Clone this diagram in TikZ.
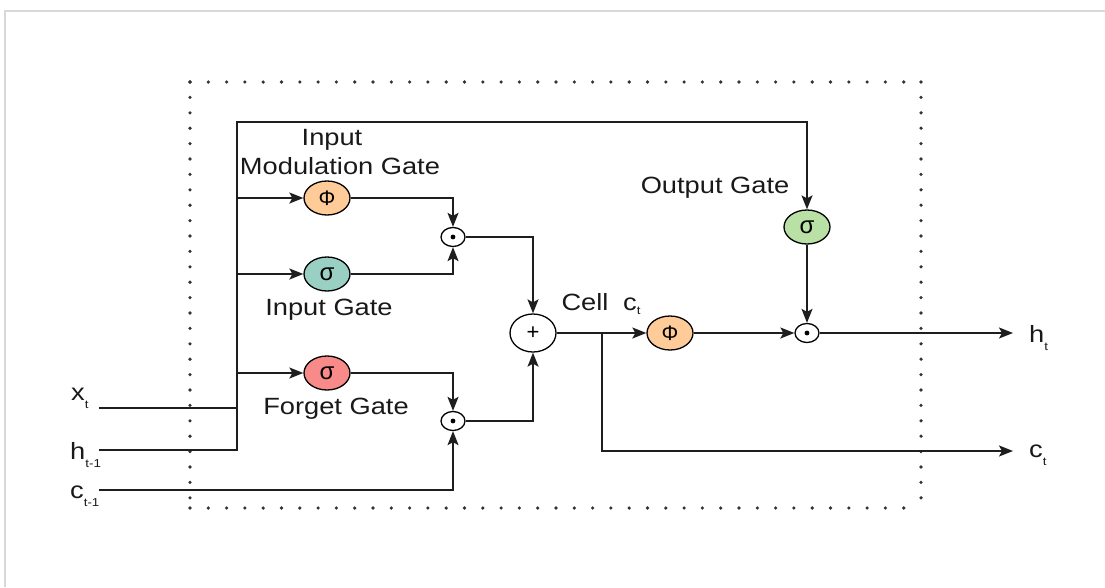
\documentclass[tikz,border=0pt]{standalone}
\usepackage{fontspec}
\setmainfont{Liberation Sans}[FakeStretch=1.16]
\newfontfamily\symfont{Liberation Sans}
\usetikzlibrary{arrows.meta,shapes.geometric}
\definecolor{phiorange}{HTML}{FFCC99}
\definecolor{sigteal}{HTML}{9ACFC4}
\definecolor{sigpink}{HTML}{F88A8A}
\definecolor{siggreen}{HTML}{B9E0A5}
\definecolor{wirecol}{HTML}{1E1E1E}
\definecolor{dotcol}{HTML}{333333}
\definecolor{framecol}{HTML}{D8D8D8}
\newcommand{\subl}[3][-8pt]{#2\raisebox{#1}{\fontsize{11.5}{11.5}\selectfont #3}}
\begin{document}
\begin{tikzpicture}[x=1pt,y=-1pt,
  gate/.style={ellipse, draw=black, line width=1.3pt, minimum width=46pt, minimum height=34pt, inner sep=0pt},
  opnode/.style={ellipse, draw=black, line width=1.3pt, minimum width=24pt, minimum height=19pt, inner sep=0pt},
  wire/.style={line width=1.5pt, draw=wirecol},
  arr/.style={wire, -{Stealth[length=14pt,width=11pt,inset=3pt]}},
  lbl/.style={font=\fontsize{23.5}{27}\selectfont, inner sep=0pt, text=black!90},
  phisym/.style={font=\symfont\fontsize{21}{21}\selectfont},
  sigsym/.style={font=\symfont\fontsize{24}{24}\selectfont},
  dotline/.style={draw=dotcol, line width=3.6pt, line cap=round}
]
\useasboundingbox (0,0) rectangle (1105,587);
% light frame
\draw[framecol, line width=2pt] (5,587) -- (5,11) -- (1105,11);
% dotted box
\draw[dotline, dash pattern=on 0pt off 18.3pt] (190,82) -- (921,82);
\draw[dotline, dash pattern=on 0pt off 18.3pt] (190,508) -- (921,508);
\draw[dotline, dash pattern=on 0pt off 15.4pt] (190,82) -- (190,508);
\draw[dotline, dash pattern=on 0pt off 15.4pt] (921,82) -- (921,508);

% gates
\node[gate, fill=phiorange, phisym] (phiIM) at (327,198) {Φ};
\node[gate, fill=sigteal, sigsym] (sigIn) at (327,274) {σ};
\node[gate, fill=sigpink, sigsym] (sigF) at (327,373) {σ};
\node[gate, fill=siggreen, sigsym] (sigO) at (807,227) {σ};
\node[gate, fill=phiorange, phisym] (phiC) at (670,333) {Φ};
\node[opnode] (mul1) at (453,237) {};
\node[opnode] (mul2) at (453,421) {};
\node[opnode] (mul3) at (807,333) {};
\node[ellipse, draw=black, line width=1.3pt, minimum width=46pt, minimum height=38pt, inner sep=0pt, font=\symfont\fontsize{22}{22}\selectfont] (plus) at (533,333) {+};
\foreach \m in {mul1,mul2,mul3} \fill[black] (\m.center) circle (2.4pt);

% coordinates
\coordinate (bustop) at (237,122);
\coordinate (busbot) at (237,450);
\coordinate (xin) at (99,408);
\coordinate (hin) at (99,450);
\coordinate (cin) at (99,490);
\coordinate (split) at (602,333);
\coordinate (hout) at (1013,333);
\coordinate (cout) at (1013,451);

% wires
\draw[arr] (hin) -- (busbot) -- (bustop) -| (sigO.north);
\draw[wire] (xin) -- (xin -| bustop);
\draw[arr] (phiIM.west -| bustop) -- (phiIM.west);
\draw[arr] (sigIn.west -| bustop) -- (sigIn.west);
\draw[arr] (sigF.west -| bustop) -- (sigF.west);
\draw[arr] (phiIM.east) -| (mul1.north);
\draw[arr] (sigIn.east) -| (mul1.south);
\draw[arr] (mul1.east) -| (plus.north);
\draw[arr] (sigF.east) -| (mul2.north);
\draw[arr] (cin) -| (mul2.south);
\draw[arr] (mul2.east) -| (plus.south);
\draw[arr] (plus.east) -- (phiC.west);
\draw[arr] (phiC.east) -- (mul3.west);
\draw[arr] (sigO.south) -- (mul3.north);
\draw[arr] (mul3.east) -- (hout);
\draw[arr] (split) |- (cout);

% labels
\node[lbl] (lInput) at (332,140) {Input};
\node[lbl] (lMod) at (340,166) {Modulation Gate};
\node[lbl] (lIG) at (329,310) {Input Gate};
\node[lbl] (lFG) at (336,409) {Forget Gate};
\node[lbl] (lOG) at (715,188) {Output Gate};
\node[lbl] (lCell) at (585,302) {Cell};
\node[lbl, anchor=base west] (lct) at (623,310) {\subl[-4pt]{c}{t}};
\node[lbl, anchor=base west] (lxt) at (71,400) {\subl{x}{t}};
\node[lbl, anchor=base west] (lht1) at (70,459) {\subl{h}{t-1}};
\node[lbl, anchor=base west] (lct1) at (70,498) {\subl{c}{t-1}};
\node[lbl, anchor=base west] (lht) at (1029,342) {\subl{h}{t}};
\node[lbl, anchor=base west] (lcto) at (1029,457) {\subl{c}{t}};
\end{tikzpicture}
\end{document}
